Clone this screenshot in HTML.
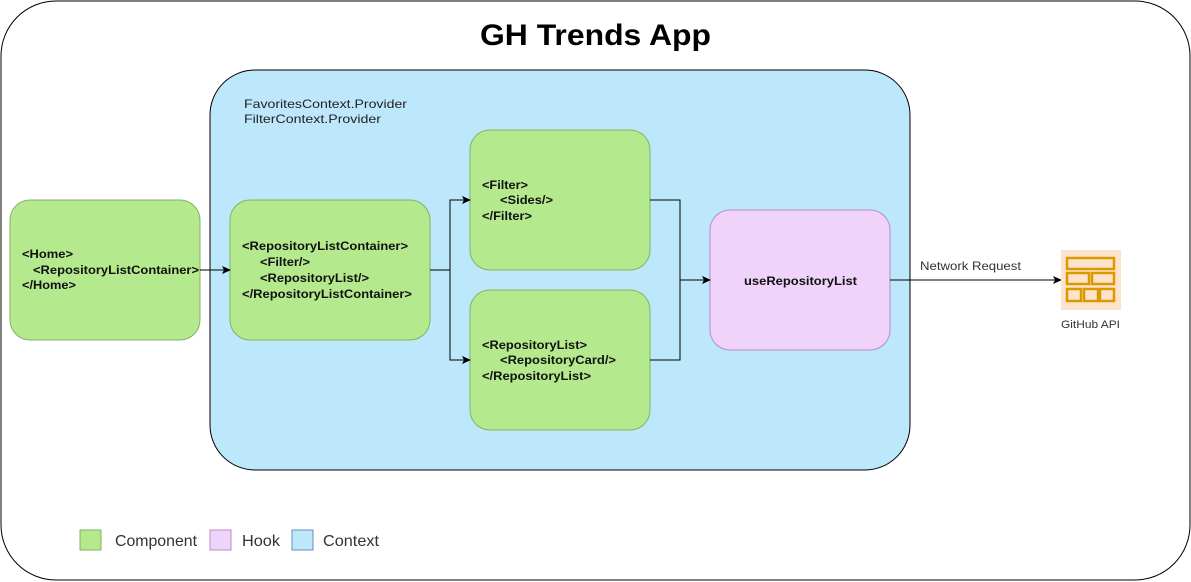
<!DOCTYPE html>
<html><head><style>body{margin:0;background:#fff}svg{display:block;font-family:"Liberation Sans",Arial,sans-serif}</style></head>
<body>
<svg width="1191" height="582" viewBox="0 0 1191 582">
<defs><marker id="a" markerWidth="10" markerHeight="10" refX="8" refY="4" orient="auto" markerUnits="userSpaceOnUse"><path d="M0,0 L9,4 L0,8 L2,4 z" fill="#000"/></marker></defs>
<rect x="1" y="1" width="1189" height="579" rx="55" fill="#fff" stroke="#000"/>
<text x="480" y="45" font-size="30" font-weight="bold" textLength="231" lengthAdjust="spacingAndGlyphs">GH Trends App</text>
<rect x="210" y="70" width="700" height="400" rx="45" fill="#bde7fa" stroke="#000"/>
<g font-size="12" fill="#222" lengthAdjust="spacingAndGlyphs">
<text x="244" y="108" textLength="163" lengthAdjust="spacingAndGlyphs">FavoritesContext.Provider</text>
<text x="244" y="123" textLength="137" lengthAdjust="spacingAndGlyphs">FilterContext.Provider</text>
</g>
<g fill="#b5e98d" stroke="#82b366">
<rect x="10" y="200" width="190" height="140" rx="20"/>
<rect x="230" y="200" width="200" height="140" rx="20"/>
<rect x="470" y="130" width="180" height="140" rx="20"/>
<rect x="470" y="290" width="180" height="140" rx="20"/>
</g>
<rect x="710" y="210" width="180" height="140" rx="20" fill="#efd3fb" stroke="#b98dc9"/>
<g font-size="12" font-weight="bold" fill="#111">
<text x="22" y="258" textLength="51" lengthAdjust="spacingAndGlyphs">&lt;Home&gt;</text>
<text x="33" y="274" textLength="166" lengthAdjust="spacingAndGlyphs">&lt;RepositoryListContainer&gt;</text>
<text x="22" y="289" textLength="54" lengthAdjust="spacingAndGlyphs">&lt;/Home&gt;</text>
<text x="242" y="250" textLength="166" lengthAdjust="spacingAndGlyphs">&lt;RepositoryListContainer&gt;</text>
<text x="260" y="266" textLength="50" lengthAdjust="spacingAndGlyphs">&lt;Filter/&gt;</text>
<text x="260" y="282" textLength="109" lengthAdjust="spacingAndGlyphs">&lt;RepositoryList/&gt;</text>
<text x="242" y="298" textLength="170" lengthAdjust="spacingAndGlyphs">&lt;/RepositoryListContainer&gt;</text>
<text x="482" y="189" textLength="46" lengthAdjust="spacingAndGlyphs">&lt;Filter&gt;</text>
<text x="500" y="204" textLength="53" lengthAdjust="spacingAndGlyphs">&lt;Sides/&gt;</text>
<text x="482" y="220" textLength="50" lengthAdjust="spacingAndGlyphs">&lt;/Filter&gt;</text>
<text x="482" y="349" textLength="105" lengthAdjust="spacingAndGlyphs">&lt;RepositoryList&gt;</text>
<text x="500" y="364" textLength="116" lengthAdjust="spacingAndGlyphs">&lt;RepositoryCard/&gt;</text>
<text x="482" y="380" textLength="109" lengthAdjust="spacingAndGlyphs">&lt;/RepositoryList&gt;</text>
<text x="744" y="285" textLength="113" lengthAdjust="spacingAndGlyphs">useRepositoryList</text>
</g>
<g stroke="#000" fill="none" stroke-width="1">
<path d="M200,270 L230,270" marker-end="url(#a)"/>
<path d="M430,270 L450,270 L450,200 L470,200" marker-end="url(#a)"/>
<path d="M450,270 L450,360 L470,360" marker-end="url(#a)"/>
<path d="M650,200 L680,200 L680,280 L710,280" marker-end="url(#a)"/>
<path d="M650,360 L680,360 L680,280"/>
<path d="M890,280 L1061,280" marker-end="url(#a)"/>
</g>
<text x="920" y="270" font-size="12" fill="#333" textLength="101" lengthAdjust="spacingAndGlyphs">Network Request</text>
<rect x="1061" y="250" width="60" height="60" fill="#fde3cb"/>
<g fill="none" stroke="#d79b00" stroke-width="2.5">
<rect x="1067" y="258" width="47" height="11"/>
<rect x="1067" y="273" width="22" height="11"/><rect x="1092" y="273" width="22" height="11"/>
<rect x="1067" y="289" width="14" height="12"/><rect x="1084" y="289" width="14" height="12"/><rect x="1100" y="289" width="14" height="12"/>
</g>
<text x="1061" y="328" font-size="11" fill="#333" textLength="59" lengthAdjust="spacingAndGlyphs">GitHub API</text>
<rect x="80" y="530" width="21" height="20" fill="#b5e98d" stroke="#82b366"/>
<text x="115" y="546" font-size="16" fill="#333" textLength="82" lengthAdjust="spacingAndGlyphs">Component</text>
<rect x="210" y="530" width="21" height="20" fill="#efd3fb" stroke="#b98dc9"/>
<text x="242" y="546" font-size="16" fill="#333" textLength="38" lengthAdjust="spacingAndGlyphs">Hook</text>
<rect x="292" y="530" width="21" height="20" fill="#bde7fa" stroke="#6c8ebf"/>
<text x="323" y="546" font-size="16" fill="#333" textLength="56" lengthAdjust="spacingAndGlyphs">Context</text>
</svg>
</body></html>
